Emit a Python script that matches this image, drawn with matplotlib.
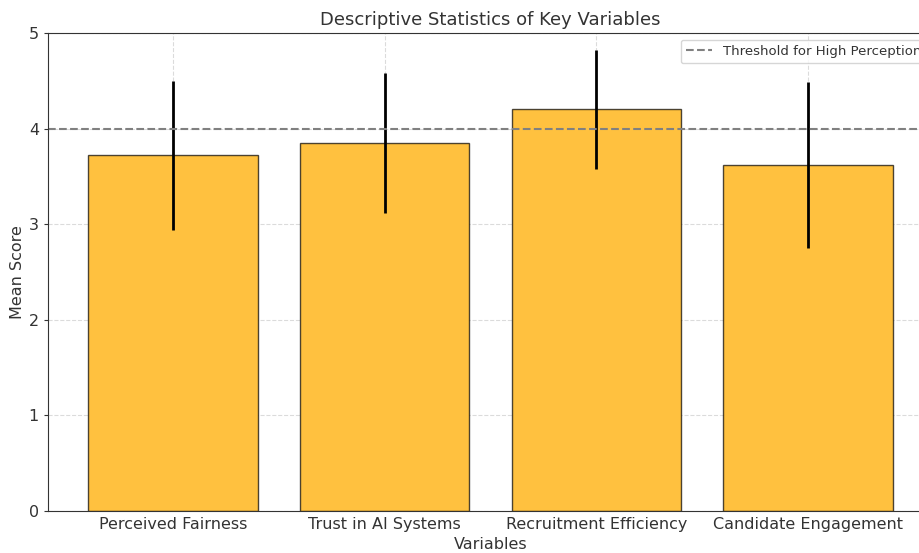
import matplotlib
matplotlib.use('Agg')
import matplotlib.pyplot as plt

# Data
variables = ['Perceived Fairness', 'Trust in AI Systems', 'Recruitment Efficiency', 'Candidate Engagement']
means = [3.72, 3.85, 4.20, 3.62]
stds = [0.78, 0.73, 0.62, 0.87]
threshold = 4.0

plt.rcParams['text.color'] = '#333333'
plt.rcParams['axes.labelcolor'] = '#333333'
plt.rcParams['xtick.color'] = '#333333'
plt.rcParams['ytick.color'] = '#333333'

fig = plt.figure(figsize=(9.2, 5.53), dpi=100)
# axes run past the right edge, as in the reference crop
ax = fig.add_axes([48 / 920, 42 / 553, (933 - 48) / 920, (511 - 33) / 553])

ax.bar(variables, means, yerr=stds, color='#ffc13f', edgecolor=(0, 0, 0, 0.7),
       error_kw={'elinewidth': 2, 'ecolor': 'black', 'capsize': 0})
ax.axhline(y=threshold, color='gray', linestyle='--', linewidth=1.5,
           label='Threshold for High Perception')

ax.set_ylim(0, 5)
ax.set_title('Descriptive Statistics of Key Variables', fontsize=13, pad=6)
ax.set_xlabel('Variables', fontsize=11.5, labelpad=4)
ax.set_ylabel('Mean Score', fontsize=11.5, labelpad=3)
ax.tick_params(labelsize=11.5)
ax.tick_params(axis='x', direction='in', length=3, pad=4)
ax.tick_params(axis='y', length=3)
ax.grid(True, linestyle='--', color='#cccccc', alpha=0.7)
ax.set_axisbelow(True)
for spine in ax.spines.values():
    spine.set_edgecolor('#333333')
ax.legend(loc='upper right', fontsize=9.5)

fig.savefig('out.png', dpi=100)
